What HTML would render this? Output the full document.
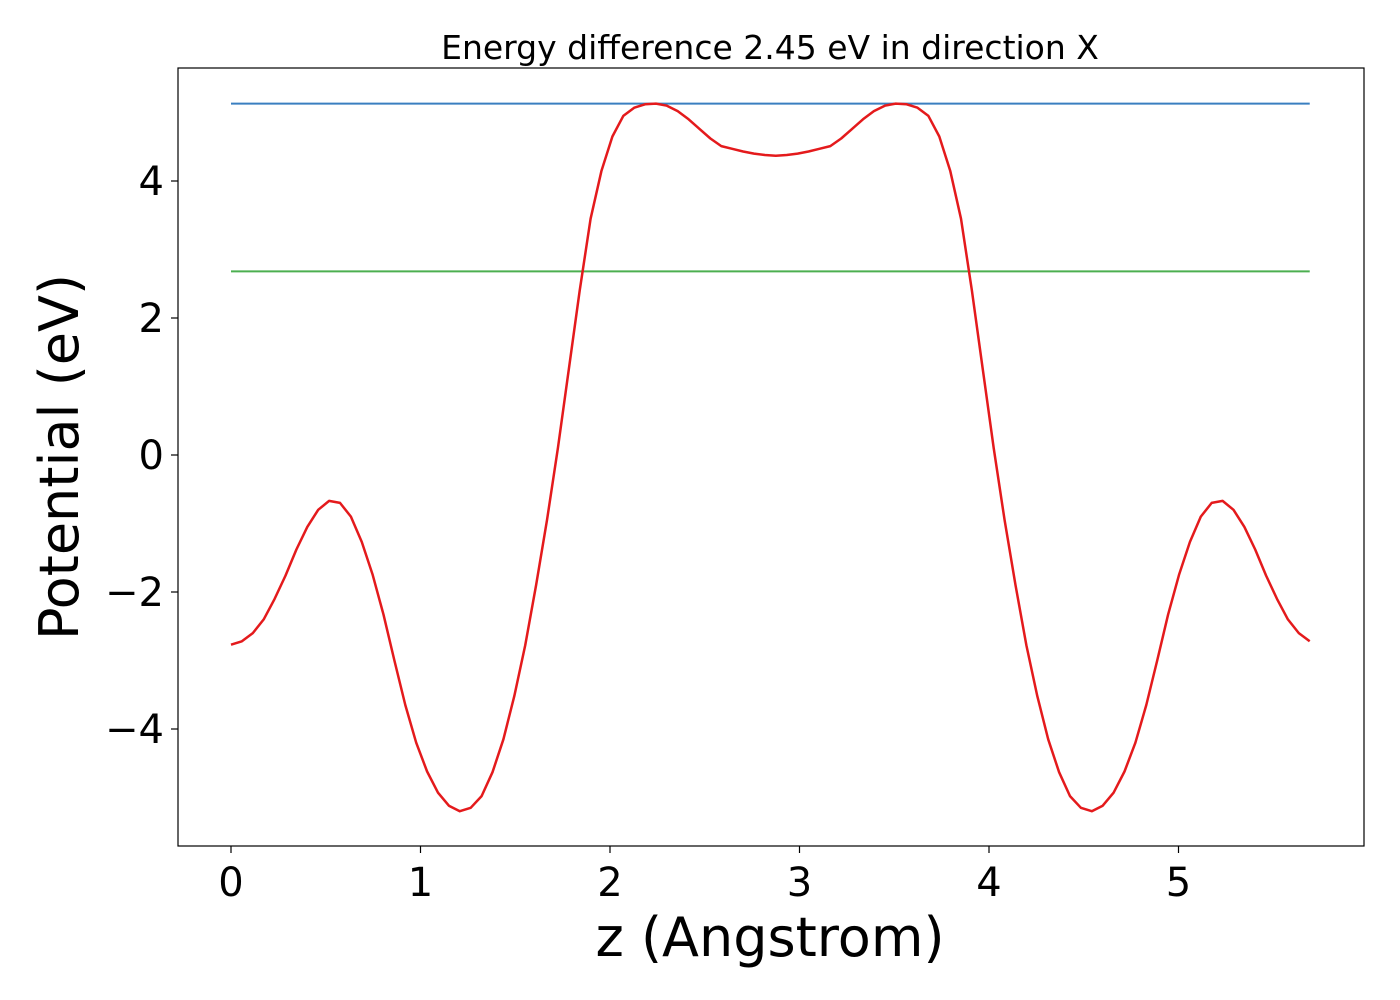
<!DOCTYPE html>
<html><head><meta charset="utf-8"><style>
html,body{margin:0;padding:0;background:#fff;}
svg{display:block;font-family:"DejaVu Sans","Liberation Sans",sans-serif;}
</style></head><body>
<svg id="chart" width="1400" height="1000" xmlns="http://www.w3.org/2000/svg">
<rect width="1400" height="1000" fill="#fff"/>
<text x="770" y="59" text-anchor="middle" font-size="33">Energy difference 2.45 eV in direction X</text>
<g id="plot"></g>
<rect x="178" y="68" width="1186" height="778" fill="none" stroke="#000" stroke-width="1.2"/>
<text x="770" y="956" text-anchor="middle" font-size="54">z (Angstrom)</text>
<text transform="translate(78,457) rotate(-90)" text-anchor="middle" font-size="54">Potential (eV)</text>
</svg>
<script>
const xTicks=[0,1,2,3,4,5];
const yTicks=[-4,-2,0,2,4];
const yTickLabels=["\u22124","\u22122","0","2","4"];
const step=0.0575;
const potential=[-2.77,-2.72,-2.60,-2.40,-2.10,-1.76,-1.38,-1.05,-0.80,-0.67,-0.70,-0.90,-1.27,-1.75,-2.33,-3.00,-3.65,-4.20,-4.62,-4.93,-5.12,-5.20,-5.15,-4.98,-4.63,-4.15,-3.52,-2.78,-1.90,-0.95,0.10,1.25,2.40,3.45,4.15,4.65,4.95,5.07,5.12,5.13,5.10,5.02,4.90,4.76,4.62,4.51,4.47,4.43,4.40,4.38,4.37,4.38,4.40,4.43,4.47,4.51,4.62,4.76,4.90,5.02,5.10,5.13,5.12,5.07,4.95,4.65,4.15,3.45,2.40,1.25,0.10,-0.95,-1.90,-2.78,-3.52,-4.15,-4.63,-4.98,-5.15,-5.20,-5.12,-4.93,-4.62,-4.20,-3.65,-3.00,-2.33,-1.75,-1.27,-0.90,-0.70,-0.67,-0.80,-1.05,-1.38,-1.76,-2.10,-2.40,-2.60,-2.72];
const vacuumLevel=5.13;
const fermiLevel=2.68;
const NS="http://www.w3.org/2000/svg";
const xs=v=>231+v*189.5;
const ys=v=>455-v*68.5;
const g=document.getElementById('plot');
const svg=document.getElementById('chart');
function mk(tag,attrs,parent){const e=document.createElementNS(NS,tag);for(const k in attrs)e.setAttribute(k,attrs[k]);(parent||g).appendChild(e);return e;}
const xEnd=(potential.length-1)*step;
let l=mk('line',{x1:xs(0),x2:xs(xEnd),y1:ys(vacuumLevel),y2:ys(vacuumLevel),stroke:'#3a7fc0','stroke-width':2});


l=mk('line',{x1:xs(0),x2:xs(xEnd),y1:ys(fermiLevel),y2:ys(fermiLevel),stroke:'#4caf50','stroke-width':2});


const pts=potential.map((v,i)=>xs(i*step).toFixed(1)+','+ys(v).toFixed(1)).join(' ');
const pl=mk('polyline',{points:pts,fill:'none',stroke:'#e41a1c','stroke-width':2.5,'stroke-linejoin':'round'});


xTicks.forEach(t=>{
  const tk=mk('line',{x1:xs(t),x2:xs(t),y1:846,y2:853,stroke:'#000','stroke-width':1.2},svg);
  
  
  const tx=mk('text',{x:xs(t),y:896,'text-anchor':'middle','font-size':40},svg);
  tx.textContent=t;
  
  
});
yTicks.forEach((t,i)=>{
  const tk=mk('line',{x1:171,x2:178,y1:ys(t),y2:ys(t),stroke:'#000','stroke-width':1.2},svg);
  
  
  const tx=mk('text',{x:164,y:ys(t)+14,'text-anchor':'end','font-size':40},svg);
  tx.textContent=yTickLabels[i];
  
  
});
</script>
</body></html>
